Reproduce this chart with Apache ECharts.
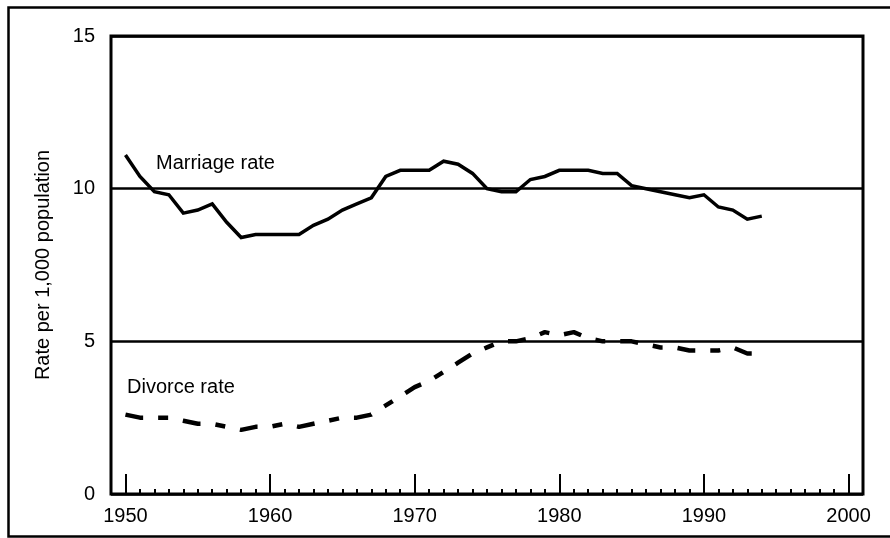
<!DOCTYPE html>
<html>
<head>
<meta charset="utf-8">
<script src="https://cdn.jsdelivr.net/npm/echarts@6/dist/echarts.min.js"></script>
<style>
html,body{margin:0;padding:0;background:#fff;}
#chart{width:890px;height:538px;}
</style>
</head>
<body>
<div id="chart"></div>
<script>
const years = [1950,1951,1952,1953,1954,1955,1956,1957,1958,1959,1960,1961,1962,1963,1964,1965,1966,1967,1968,1969,1970,1971,1972,1973,1974,1975,1976,1977,1978,1979,1980,1981,1982,1983,1984,1985,1986,1987,1988,1989,1990,1991,1992,1993,1994];
const marriageRate = [11.1,10.4,9.9,9.8,9.2,9.3,9.5,8.9,8.4,8.5,8.5,8.5,8.5,8.8,9.0,9.3,9.5,9.7,10.4,10.6,10.6,10.6,10.9,10.8,10.5,10.0,9.9,9.9,10.3,10.4,10.6,10.6,10.6,10.5,10.5,10.1,10.0,9.9,9.8,9.7,9.8,9.4,9.3,9.0,9.1];
const divorceRate = [2.6,2.5,2.5,2.5,2.4,2.3,2.3,2.2,2.1,2.2,2.2,2.3,2.2,2.3,2.4,2.5,2.5,2.6,2.9,3.2,3.5,3.7,4.0,4.3,4.6,4.8,5.0,5.0,5.1,5.3,5.2,5.3,5.1,5.0,5.0,5.0,4.9,4.8,4.8,4.7,4.7,4.7,4.8,4.6,4.6];
const xTickLabels = [1950,1960,1970,1980,1990,2000];
const minorTickYears = [];
for (let y = 1950; y <= 2000; y++) { if (y % 10 !== 0) minorTickYears.push(y); }
const yTickLabels = [0,5,10,15];
const seriesNames = ['Marriage rate','Divorce rate'];
const yTitle = 'Rate per 1,000 population';

const FONT = '"Liberation Sans", Arial, sans-serif';
const chart = echarts.init(document.getElementById('chart'), null, {renderer:'canvas'});
const pairs = (xs, vs) => xs.map((x,i)=>[x, vs[i]]);

chart.setOption({
  animation:false,
  backgroundColor:'#fff',
  grid:{left:111,right:27,top:36,bottom:44,show:true,borderColor:'#000',borderWidth:3,backgroundColor:'transparent'},
  xAxis:[{
    type:'value',min:1949,max:2001,position:'bottom',
    axisLine:{show:false},
    splitLine:{show:false},
    axisTick:{show:true,inside:true,length:20,lineStyle:{color:'#000',width:2},customValues:xTickLabels},
    axisLabel:{show:true,customValues:xTickLabels,formatter:v=>String(v),color:'#000',fontSize:20,fontFamily:FONT,margin:12}
  },{
    type:'value',min:1949,max:2001,position:'bottom',offset:0,
    axisLine:{show:false},
    splitLine:{show:false},
    axisTick:{show:true,inside:true,length:5,lineStyle:{color:'#000',width:2},customValues:minorTickYears},
    axisLabel:{show:false}
  }],
  yAxis:{
    type:'value',min:0,max:15,interval:5,
    axisLine:{show:false},
    axisTick:{show:false},
    splitLine:{show:true,lineStyle:{color:'#000',width:2.5}},
    axisLabel:{color:'#000',fontSize:20,fontFamily:FONT,margin:16,formatter:v=>String(v)},
    name:yTitle,nameLocation:'middle',nameRotate:90,nameGap:58,
    nameTextStyle:{color:'#000',fontSize:20,fontFamily:FONT}
  },
  series:[{
    name:seriesNames[0],type:'line',data:pairs(years,marriageRate),
    showSymbol:false,symbol:'none',smooth:false,
    lineStyle:{color:'#000',width:3.5,join:'miter'}
  },{
    name:seriesNames[1],type:'line',data:pairs(years,divorceRate),
    showSymbol:false,symbol:'none',smooth:false,
    lineStyle:{color:'#000',width:4.5,type:[18,15,10,15],cap:'butt'}
  }],
  graphic:[
    {type:'rect',shape:{x:8.5,y:7.5,width:895,height:529},style:{fill:'none',stroke:'#000',lineWidth:2.5},silent:true,z:-1},
    {type:'text',left:156,top:153,style:{text:seriesNames[0],fill:'#000',font:'20px '+FONT}},
    {type:'text',left:127,top:377,style:{text:seriesNames[1],fill:'#000',font:'20px '+FONT}}
  ]
});
</script>
</body>
</html>
